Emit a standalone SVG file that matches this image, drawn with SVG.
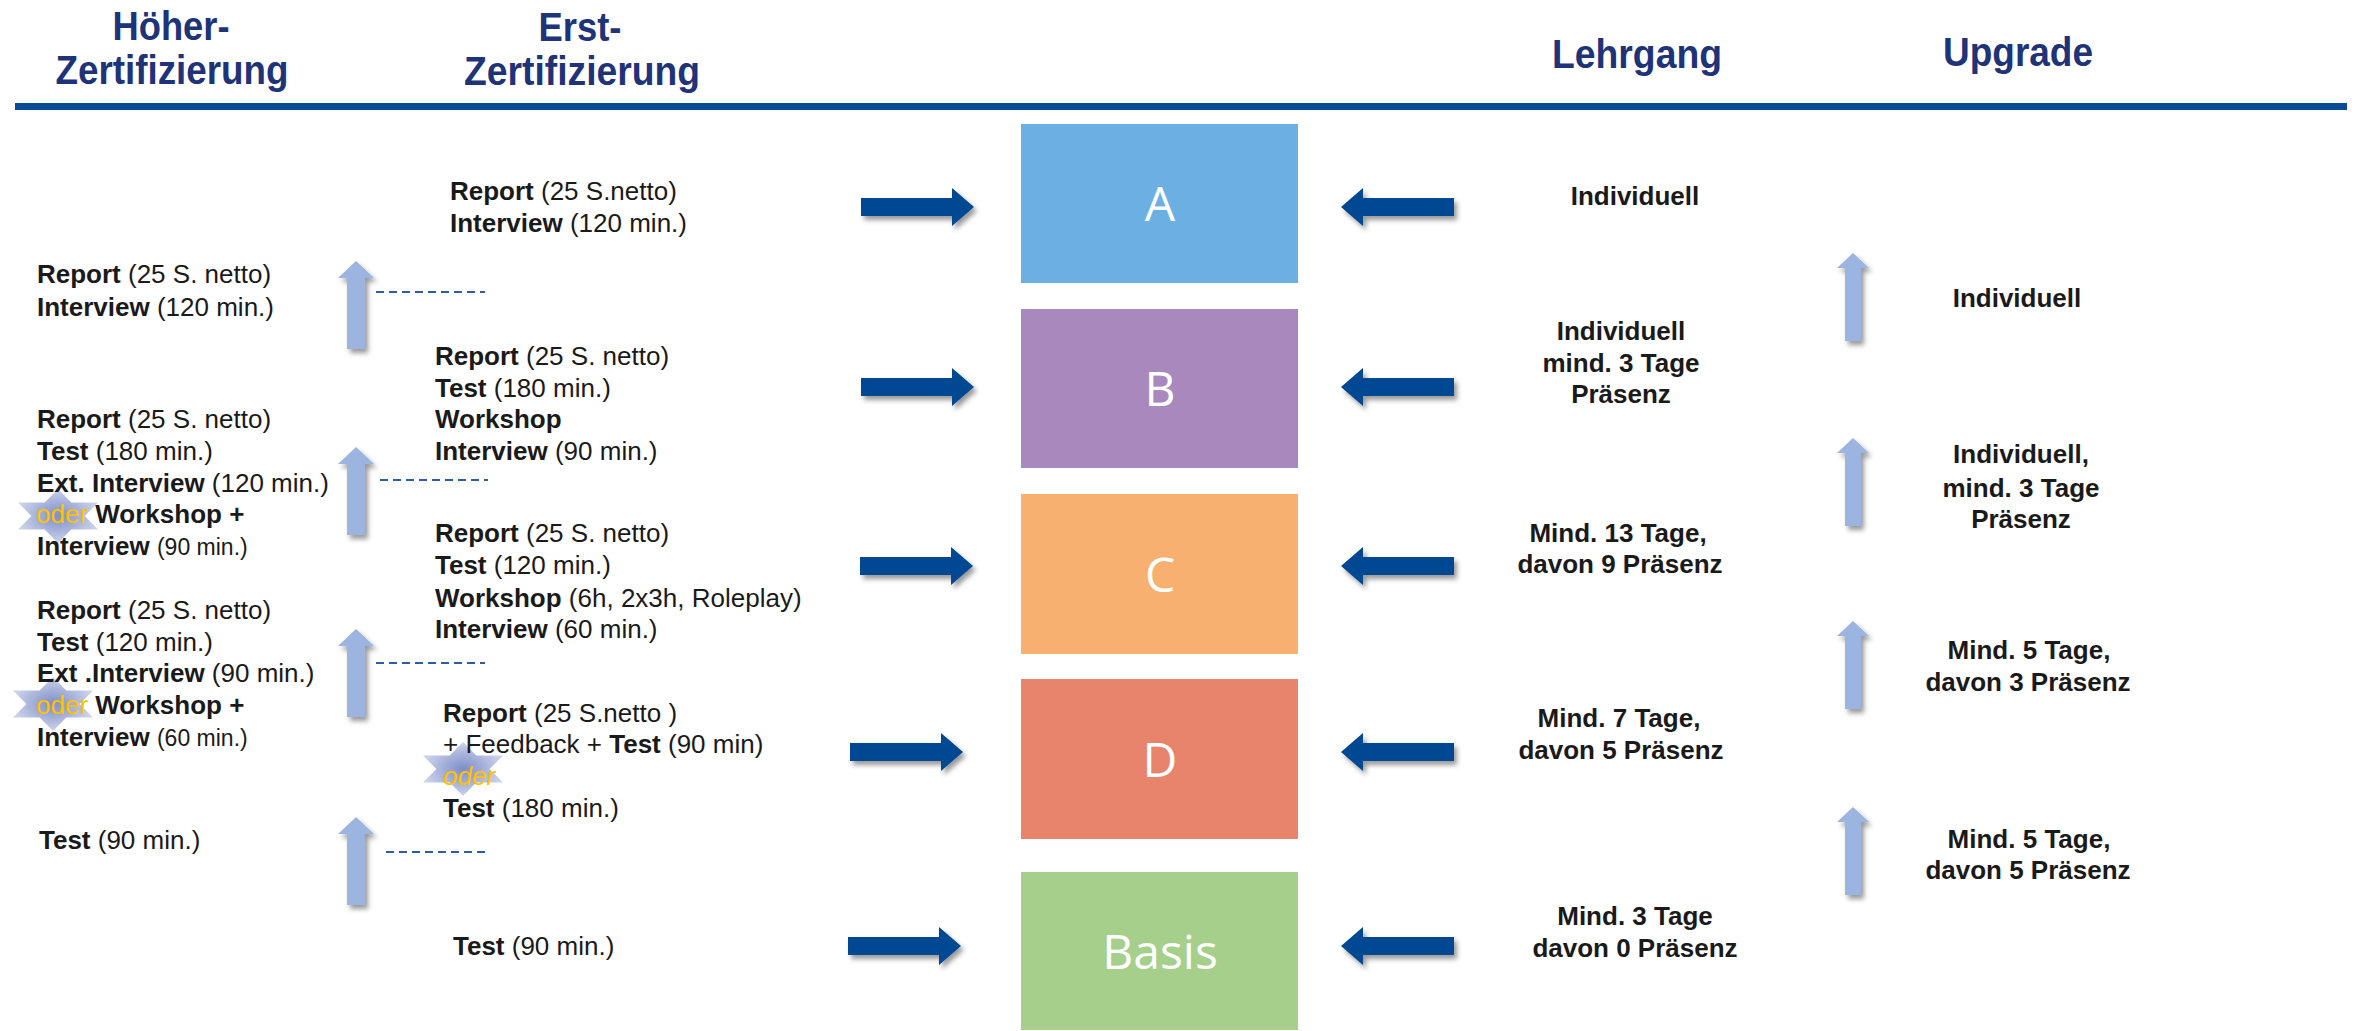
<svg xmlns="http://www.w3.org/2000/svg" width="2362" height="1031" viewBox="0 0 2362 1031">
<style>
.hd{font-family:"Liberation Sans",Arial,sans-serif;font-weight:bold;font-size:41px;fill:#1E3378;text-anchor:middle}
.t{font-family:"Liberation Sans",Arial,sans-serif;font-size:26px;fill:#1A1A1A}
.b{font-weight:bold}
.sm{font-size:23px}
.c{text-anchor:middle;font-weight:bold}
.oder{fill:#FFC000}
.box{font-family:"Open Sans","Liberation Sans",sans-serif;font-size:48px;fill:#FFFFFF;text-anchor:middle}
.dash{stroke:#2F5DA5;stroke-width:2;stroke-dasharray:8 5;fill:none}
.dk{fill:#034892;filter:url(#sh)}
.lt{fill:#9BB4E0;filter:url(#sh)}
.star{fill:url(#sg)}
</style>
<defs>
<filter id="sh" x="-30%" y="-30%" width="170%" height="170%">
<feDropShadow dx="3" dy="4" stdDeviation="2.5" flood-color="#000" flood-opacity="0.4"/>
</filter>
<radialGradient id="sg" cx="0.5" cy="0.5" r="0.5">
<stop offset="0" stop-color="#7D8DC8"/>
<stop offset="1" stop-color="#CBD2EA"/>
</radialGradient>
<path id="ra" d="M0,-9 H91 V-19 L113,0 L91,19 V9 H0 Z"/>
<path id="la" d="M0,0 L22,-19 V-9 H113 V9 H22 V19 Z"/>
<path id="ua" d="M0,0 L18,17 H9 V88 H-9 V17 H-18 Z"/>
<path id="ua2" d="M0,0 L16,15 H8 V88 H-8 V15 H-16 Z"/>
<path id="hex" d="M0,-27 L40,13.5 L-40,13.5 Z M0,27 L-40,-13.5 L40,-13.5 Z"/>
</defs>
<rect width="2362" height="1031" fill="#FFFFFF"/>

<g id="headers">
<text class="hd" x="171" y="40" textLength="117" lengthAdjust="spacingAndGlyphs">Höher-</text>
<text class="hd" x="172" y="84" textLength="233" lengthAdjust="spacingAndGlyphs">Zertifizierung</text>
<text class="hd" x="580" y="41" textLength="83" lengthAdjust="spacingAndGlyphs">Erst-</text>
<text class="hd" x="582" y="85" textLength="236" lengthAdjust="spacingAndGlyphs">Zertifizierung</text>
<text class="hd" x="1637" y="68" textLength="170" lengthAdjust="spacingAndGlyphs">Lehrgang</text>
<text class="hd" x="2018" y="66" textLength="150" lengthAdjust="spacingAndGlyphs">Upgrade</text>
<rect x="15" y="103" width="2332" height="7" fill="#0B4A94"/>
</g>

<g id="level-A">
<rect x="1021" y="124" width="277" height="159" fill="#6CB0E3"/>
<text class="box" x="1160" y="221">A</text>
</g>
<g id="level-B">
<rect x="1021" y="309" width="277" height="159" fill="#A988BD"/>
<text class="box" x="1160" y="406">B</text>
</g>
<g id="level-C">
<rect x="1021" y="494" width="277" height="160" fill="#F7B06F"/>
<text class="box" x="1160" y="592">C</text>
</g>
<g id="level-D">
<rect x="1021" y="679" width="277" height="160" fill="#E8836C"/>
<text class="box" x="1160" y="777">D</text>
</g>
<g id="level-Basis">
<rect x="1021" y="872" width="277" height="158" fill="#A6CF8B"/>
<text class="box" x="1160" y="969">Basis</text>
</g>

<g id="connectors">
<use href="#ra" class="dk" transform="translate(861,207)"/>
<use href="#ra" class="dk" transform="translate(861,387)"/>
<use href="#ra" class="dk" transform="translate(860,566)"/>
<use href="#ra" class="dk" transform="translate(850,752)"/>
<use href="#ra" class="dk" transform="translate(848,946)"/>
<use href="#la" class="dk" transform="translate(1341,207)"/>
<use href="#la" class="dk" transform="translate(1341,387)"/>
<use href="#la" class="dk" transform="translate(1341,566)"/>
<use href="#la" class="dk" transform="translate(1341,752)"/>
<use href="#la" class="dk" transform="translate(1341,946)"/>
<use href="#ua" class="lt" transform="translate(356,261)"/>
<use href="#ua" class="lt" transform="translate(356,447)"/>
<use href="#ua" class="lt" transform="translate(356,629)"/>
<use href="#ua" class="lt" transform="translate(356,817)"/>
<use href="#ua2" class="lt" transform="translate(1853,253)"/>
<use href="#ua2" class="lt" transform="translate(1853,438)"/>
<use href="#ua2" class="lt" transform="translate(1853,621)"/>
<use href="#ua2" class="lt" transform="translate(1853,807)"/>
<line class="dash" x1="376" y1="292" x2="485" y2="292"/>
<line class="dash" x1="380" y1="480" x2="488" y2="480"/>
<line class="dash" x1="376" y1="663" x2="485" y2="663"/>
<line class="dash" x1="386" y1="852" x2="488" y2="852"/>
</g>

<g id="hoeher-1">
<text class="t" x="37" y="283"><tspan class="b">Report</tspan> (25 S. netto)</text>
<text class="t" x="37" y="316"><tspan class="b">Interview</tspan> (120 min.)</text>
</g>
<g id="hoeher-2">
<use href="#hex" class="star" transform="translate(58,516)"/>
<text class="t" x="37" y="428"><tspan class="b">Report</tspan> (25 S. netto)</text>
<text class="t" x="37" y="460"><tspan class="b">Test</tspan> (180 min.)</text>
<text class="t" x="37" y="492"><tspan class="b">Ext. Interview</tspan> (120 min.)</text>
<text class="t" x="36" y="523"><tspan class="oder">oder</tspan> <tspan class="b">Workshop +</tspan></text>
<text class="t" x="37" y="555"><tspan class="b">Interview</tspan> <tspan class="sm">(90 min.)</tspan></text>
</g>
<g id="hoeher-3">
<use href="#hex" class="star" transform="translate(53,704)"/>
<text class="t" x="37" y="619"><tspan class="b">Report</tspan> (25 S. netto)</text>
<text class="t" x="37" y="651"><tspan class="b">Test</tspan> (120 min.)</text>
<text class="t" x="37" y="682"><tspan class="b">Ext .Interview</tspan> (90 min.)</text>
<text class="t" x="36" y="714"><tspan class="oder">oder</tspan> <tspan class="b">Workshop +</tspan></text>
<text class="t" x="37" y="746"><tspan class="b">Interview</tspan> <tspan class="sm">(60 min.)</tspan></text>
</g>
<g id="hoeher-4">
<text class="t" x="39" y="849"><tspan class="b">Test</tspan> (90 min.)</text>
</g>

<g id="erst-A">
<text class="t" x="450" y="200"><tspan class="b">Report</tspan> (25 S.netto)</text>
<text class="t" x="450" y="232"><tspan class="b">Interview</tspan> (120 min.)</text>
</g>
<g id="erst-B">
<text class="t" x="435" y="365"><tspan class="b">Report</tspan> (25 S. netto)</text>
<text class="t" x="435" y="397"><tspan class="b">Test</tspan> (180 min.)</text>
<text class="t" x="435" y="428"><tspan class="b">Workshop</tspan></text>
<text class="t" x="435" y="460"><tspan class="b">Interview</tspan> (90 min.)</text>
</g>
<g id="erst-C">
<text class="t" x="435" y="542"><tspan class="b">Report</tspan> (25 S. netto)</text>
<text class="t" x="435" y="574"><tspan class="b">Test</tspan> (120 min.)</text>
<text class="t" x="435" y="607"><tspan class="b">Workshop</tspan> (6h, 2x3h, Roleplay)</text>
<text class="t" x="435" y="638"><tspan class="b">Interview</tspan> (60 min.)</text>
</g>
<g id="erst-D">
<use href="#hex" class="star" transform="translate(463,769)"/>
<text class="t" x="443" y="722"><tspan class="b">Report</tspan> (25 S.netto )</text>
<text class="t" x="443" y="753">+ Feedback + <tspan class="b">Test</tspan> (90 min)</text>
<text class="t oder" x="443" y="785" font-style="italic">oder</text>
<text class="t" x="443" y="817"><tspan class="b">Test</tspan> (180 min.)</text>
</g>
<g id="erst-Basis">
<text class="t" x="453" y="955"><tspan class="b">Test</tspan> (90 min.)</text>
</g>

<g id="lehrgang">
<text class="t c" x="1635" y="205">Individuell</text>
<text class="t c" x="1621" y="340">Individuell</text>
<text class="t c" x="1621" y="372">mind. 3 Tage</text>
<text class="t c" x="1621" y="403">Präsenz</text>
<text class="t c" x="1618" y="542">Mind. 13 Tage,</text>
<text class="t c" x="1620" y="573">davon 9 Präsenz</text>
<text class="t c" x="1619" y="727">Mind. 7 Tage,</text>
<text class="t c" x="1621" y="759">davon 5 Präsenz</text>
<text class="t c" x="1635" y="925">Mind. 3 Tage</text>
<text class="t c" x="1635" y="957">davon 0 Präsenz</text>
</g>

<g id="upgrade">
<text class="t c" x="2017" y="307">Individuell</text>
<text class="t c" x="2021" y="463">Individuell,</text>
<text class="t c" x="2021" y="497">mind. 3 Tage</text>
<text class="t c" x="2021" y="528">Präsenz</text>
<text class="t c" x="2029" y="659">Mind. 5 Tage,</text>
<text class="t c" x="2028" y="691">davon 3 Präsenz</text>
<text class="t c" x="2029" y="848">Mind. 5 Tage,</text>
<text class="t c" x="2028" y="879">davon 5 Präsenz</text>
</g>
</svg>
